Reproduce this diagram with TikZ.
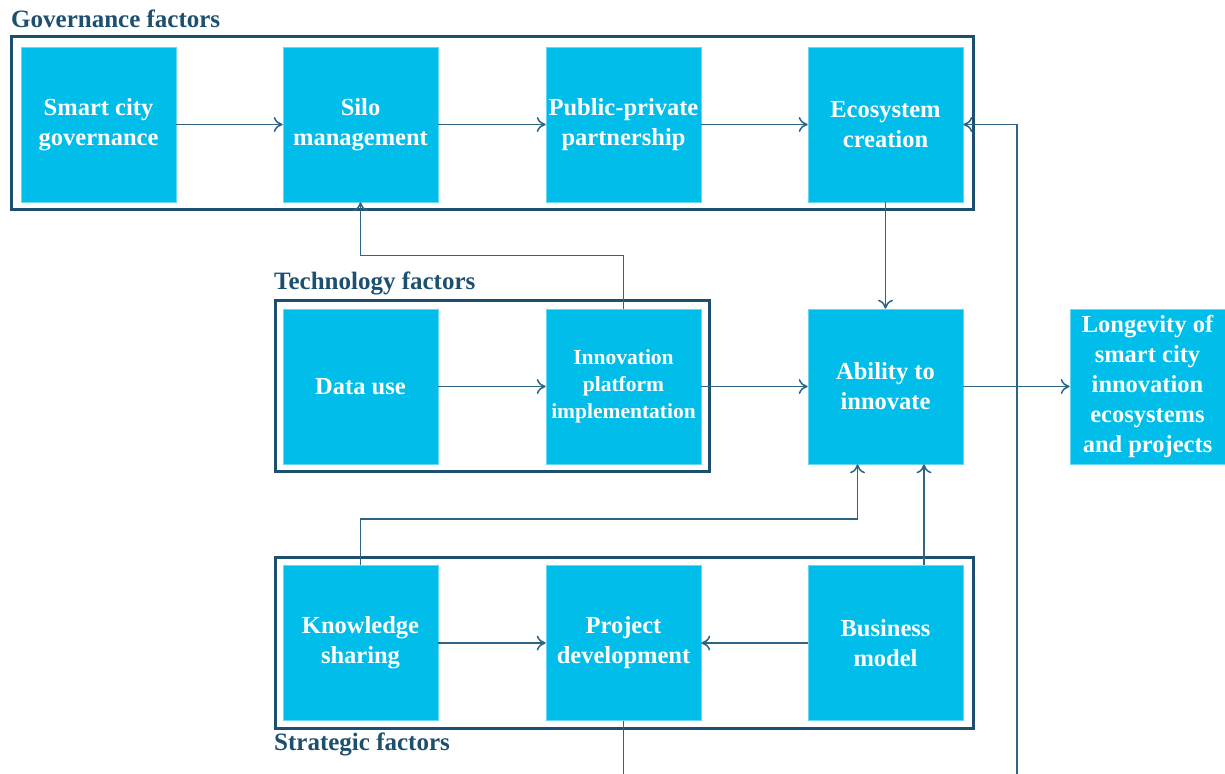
\documentclass[tikz,border=0pt]{standalone}
\usepackage{fontspec}
\setmainfont{Liberation Serif}
\usetikzlibrary{arrows.meta}
\definecolor{boxcyan}{HTML}{00BDEA}
\definecolor{framenavy}{HTML}{1D4F6E}
\definecolor{linenavy}{HTML}{2F6584}
\begin{document}
\begin{tikzpicture}[x=1pt,y=-1pt,
  factor/.style={fill=boxcyan, draw=boxcyan!60!white, line width=0.6pt, minimum width=155pt, minimum height=155pt,
    inner sep=0pt, text=white, align=center, font=\bfseries\fontsize{24.5}{30}\selectfont},
  smallfactor/.style={factor, font=\bfseries\fontsize{21.5}{27}\selectfont},
  frame/.style={draw=framenavy, line width=3pt},
  grouptitle/.style={anchor=west, text=framenavy, inner sep=0pt, font=\bfseries\fontsize{25}{28}\selectfont},
  conn/.style={draw=linenavy, line width=1.5pt, -{To[length=9pt,width=15pt,line width=1.5pt]}},
  plain/.style={draw=linenavy, line width=1.5pt}]
\useasboundingbox (0,0) rectangle (1225,773);
% frames
\draw[frame] (11,37) rectangle (973,209);
\draw[frame] (275,300) rectangle (709,471);
\draw[frame] (275,557) rectangle (973,728);
\node[grouptitle] (tgov) at (11,19) {Governance factors};
\node[grouptitle] (ttech) at (274,283) {Technology factors};
\node[grouptitle] (tstrat) at (274,744) {Strategic factors};
% boxes
\node[factor] (scg) at (98.5,124.5) {Smart city\\governance};
\node[factor] (silo) at (360.5,124.5) {Silo\\management};
\node[factor] (ppp) at (623.5,124.5) {Public-private\\partnership};
\node[factor] (eco) at (885.5,124.5) {Ecosystem\\creation};
\node[factor] (data) at (360.5,386.5) {Data use};
\node[smallfactor] (ipi) at (623.5,386.5) {Innovation\\platform\\implementation};
\node[factor] (ati) at (885.5,386.5) {Ability to\\innovate};
\node[factor] (lon) at (1147.5,386.5) {Longevity of\\smart city\\innovation\\ecosystems\\and projects};
\node[factor] (ks) at (360.5,643) {Knowledge\\sharing};
\node[factor] (pd) at (623.5,643) {Project\\development};
\node[factor] (bm) at (885.5,643) {Business\\model};
% connectors
\draw[conn] (scg) -- (silo);
\draw[conn] (silo) -- (ppp);
\draw[conn] (ppp) -- (eco);
\draw[conn] (eco) -- (ati);
\draw[conn] (data) -- (ipi);
\draw[conn] (ipi) -- (ati);
\draw[conn] (ati) -- (lon);
\draw[conn] (ipi.north) -- ++(0,-53) -| (silo.south);
\draw[conn] (ks.north) -- ++(0,-46) -| ([xshift=-28pt]ati.south);
\draw[conn] ([xshift=38.5pt]bm.north) -- ([xshift=38.5pt]ati.south);
\draw[conn] (ks) -- (pd);
\draw[conn] (bm) -- (pd);
\coordinate (pdend) at (623.5,775);
\draw[plain] (pd.south) -- (pdend);
\coordinate (loopstart) at (1017,775);
\draw[conn] (loopstart) -- (1017,124.5) -- (eco.east);
\end{tikzpicture}
\end{document}
